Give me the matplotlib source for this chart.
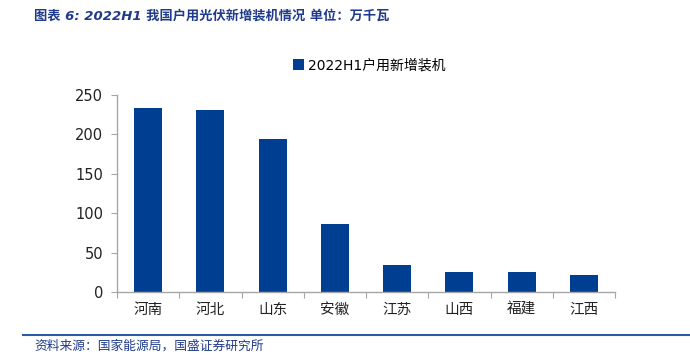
import matplotlib.pyplot as plt
import numpy as np

plt.rcParams['font.family'] = ['DejaVu Sans', 'Noto Sans CJK SC']

# 2022H1 户用新增装机 (万千瓦)
provinces = ["河南", "河北", "山东", "安徽", "江苏", "山西", "福建", "江西"]
installed = [234, 231, 194, 86, 34, 26, 25, 22]
yticks = [0, 50, 100, 150, 200, 250]

bar_color = "#003E92"
text_blue = "#1F3A8A"
axis_grey = "#A6A6A6"

fig = plt.figure(figsize=(6.9, 3.62), dpi=100)
ax = fig.add_axes([0.1696, 0.1934, 0.7217, 0.5442])

x = np.arange(len(provinces))
ax.bar(x, installed, width=0.45, color=bar_color, label="2022H1户用新增装机", zorder=2)

ax.set_xlim(-0.5, len(provinces) - 0.5)
ax.set_ylim(0, 250)
ax.set_yticks(yticks)
ax.set_yticklabels([str(v) for v in yticks], fontsize=10.5, color="#222222")

# category labels between tick marks at boundaries
ax.set_xticks(np.arange(-0.5, len(provinces) + 0.5, 1))
ax.set_xticklabels([])
ax.set_xticks(x, minor=True)
ax.set_xticklabels(provinces, minor=True, fontsize=10.5,
                   family=['Noto Sans CJK SC', 'DejaVu Sans'], color="#222222")
ax.tick_params(axis='x', which='minor', length=0, pad=8)
ax.tick_params(axis='x', which='major', length=4, color=axis_grey, direction='out')
ax.tick_params(axis='y', length=4, color=axis_grey, direction='out', pad=6)

for s in ["top", "right"]:
    ax.spines[s].set_visible(False)
for s in ["left", "bottom"]:
    ax.spines[s].set_color(axis_grey)
    ax.spines[s].set_linewidth(1.0)

leg = fig.legend(loc="center", bbox_to_anchor=(0.535, 0.82), frameon=False,
                 handlelength=0.8, handleheight=0.8, handletextpad=0.3,
                 prop={'family': ['DejaVu Sans', 'Noto Sans CJK SC'], 'size': 10})

fig.text(0.05, 0.955, "图表 6: 2022H1 我国户用光伏新增装机情况 单位：万千瓦",
         fontsize=9.5, style='italic', color=text_blue, fontweight='bold',
         family=['DejaVu Sans', 'Noto Sans CJK SC'], va='center')

fig.add_artist(plt.Line2D([0.033, 1.0], [0.074, 0.074], color="#2C5AA8",
                          linewidth=1.5, transform=fig.transFigure))
fig.text(0.05, 0.045, "资料来源：国家能源局，国盛证券研究所", fontsize=9.2,
         style='italic', color=text_blue,
         family=['Noto Sans CJK SC', 'DejaVu Sans'], va='center')

fig.savefig("out.png", dpi=100)
